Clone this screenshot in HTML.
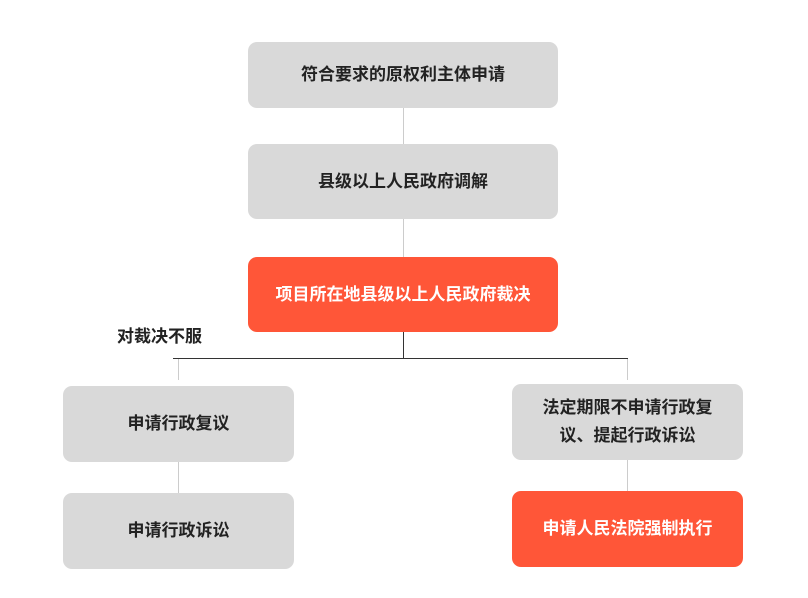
<html><head><style>
body{margin:0;width:808px;height:598px;background:#fff;position:relative;font-family:"Liberation Sans","Noto Sans CJK SC",sans-serif;overflow:hidden}
.b{position:absolute;background:#d9d9d9;border-radius:9px;display:flex;align-items:center;justify-content:center;text-align:center;font-size:17px;font-weight:bold;color:#222;line-height:28px}
.r{background:#ff5638;color:#fff}
.l{position:absolute;background:#ccc}
</style></head><body>
<div class="b" style="left:248px;top:42px;width:310px;height:66px">符合要求的原权利主体申请</div>
<div class="b" style="left:248px;top:144px;width:310px;height:75px">县级以上人民政府调解</div>
<div class="b r" style="left:248px;top:257px;width:310px;height:75px">项目所在地县级以上人民政府裁决</div>
<div class="l" style="left:403px;top:108px;width:1px;height:36px"></div>
<div class="l" style="left:403px;top:219px;width:1px;height:38px"></div>
<div style="position:absolute;left:117px;top:322px;font-size:17px;font-weight:bold;color:#222">对裁决不服</div>
<div class="l" style="left:403px;top:332px;width:1px;height:26px;background:#333"></div>
<div class="l" style="left:173px;top:358px;width:455px;height:1px;background:#333"></div>
<div class="l" style="left:178px;top:359px;width:1px;height:21px"></div>
<div class="l" style="left:627px;top:359px;width:1px;height:21px"></div>
<div class="b" style="left:63px;top:386px;width:231px;height:76px">申请行政复议</div>
<div class="b" style="left:63px;top:493px;width:231px;height:76px">申请行政诉讼</div>
<div class="l" style="left:178px;top:462px;width:1px;height:31px"></div>
<div class="b" style="left:512px;top:384px;width:231px;height:76px">法定期限不申请行政复<br>议、提起行政诉讼</div>
<div class="b r" style="left:512px;top:491px;width:231px;height:76px">申请人民法院强制执行</div>
<div class="l" style="left:627px;top:460px;width:1px;height:31px"></div>
</body></html>
